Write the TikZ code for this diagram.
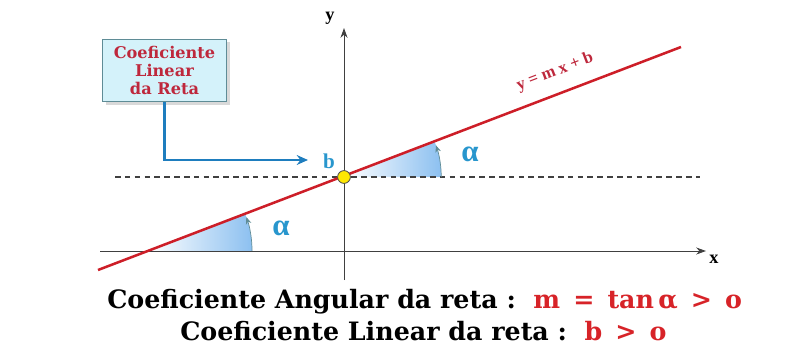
\documentclass[tikz,border=0pt]{standalone}
\usepackage{fontspec}
\setmainfont{Liberation Serif}
\newfontfamily\wideserif{DejaVu Serif}
\usetikzlibrary{arrows.meta,shadows}

\definecolor{linered}{RGB}{205,30,40}
\definecolor{textred}{RGB}{215,35,40}
\definecolor{boxred}{RGB}{190,40,60}
\definecolor{tealblue}{RGB}{40,150,205}
\definecolor{arrowblue}{RGB}{30,125,190}
\definecolor{boxfill}{RGB}{212,242,250}
\definecolor{boxline}{RGB}{95,140,150}
\definecolor{wedge}{RGB}{140,192,240}

\begin{document}
\begin{tikzpicture}[x=0.025cm,y=0.025cm,
    axis/.style={draw=black!75,line width=0.7pt},
    greek/.style={text=tealblue,font=\bfseries\fontsize{22}{22}\selectfont},
    anglearrow/.style={draw=boxline,line width=0.5pt,-{Stealth[length=5pt,width=4pt]}},
    formula/.style={anchor=base west,inner sep=0pt,font=\wideserif\bfseries\fontsize{18}{18}\selectfont}]

  \useasboundingbox (0,0) rectangle (786,356);

  \coordinate (o) at (344,179);
  \coordinate (p) at (148,105);

  % wedges
  \shade[left color=white,right color=wedge] (o) -- ++(0:2.43cm) arc[start angle=0,end angle=20.9,radius=2.43cm] -- cycle;
  \shade[left color=white,right color=wedge] (p) -- ++(0:2.6cm) arc[start angle=0,end angle=20.9,radius=2.6cm] -- cycle;

  % axes
  \coordinate (xl) at (100,105);
  \coordinate (xr) at (706,105);
  \coordinate (yd) at (344,76);
  \coordinate (yu) at (344,328);
  \draw[axis,-{Stealth[length=7pt,width=5pt]}] (xl) -- (xr);
  \draw[axis,-{Stealth[length=7pt,width=5pt]}] (yd) -- (yu);
  \node[font=\bfseries\fontsize{13}{13}\selectfont] (xlab) at (714,97) {x};
  \node[font=\bfseries\fontsize{13}{13}\selectfont] (ylab) at (330,338) {y};

  % dashed line through b
  \coordinate (dl) at (115,179);
  \coordinate (dr) at (700,179);
  \draw[black!75,line width=0.8pt,dash pattern=on 4pt off 3pt] (dl) -- (dr);

  % angle arrows
  \draw[anglearrow] (o) ++(0:2.43cm) arc[start angle=0,end angle=19,radius=2.43cm];
  \draw[anglearrow] (p) ++(0:2.6cm) arc[start angle=0,end angle=19,radius=2.6cm];

  % the line
  \coordinate (rl) at (98,86);
  \coordinate (rr) at (681,309);
  \draw[linered,line width=1.8pt] (rl) -- (rr);
  \node[text=boxred,font=\bfseries\fontsize{12}{12}\selectfont,rotate=20.9] (eq) at (555,284) {y = m x + b};

  \node[greek] (a1) at (470,202) {α};
  \node[greek] (a2) at (281,128) {α};

  \node[text=tealblue,font=\bfseries\fontsize{15}{15}\selectfont] (b) at (329,195) {b};
  \fill[yellow!90!orange,draw=black!70,line width=0.6pt] (o) circle (0.16cm);

  % box
  \node[draw=boxline,fill=boxfill,line width=0.8pt,drop shadow={opacity=0.3},
        minimum width=3.1cm,minimum height=1.57cm,inner sep=1pt,align=center,
        text=boxred,font=\wideserif\bfseries\fontsize{11.5}{12.8}\selectfont] (box) at (164.5,285.5)
        {Coeficiente\\Linear\\da Reta};
  \coordinate (bend) at (box.south |- 0,196);
  \coordinate (tip) at (308,196);
  \draw[arrowblue,line width=2pt,-{Stealth[length=8pt,width=7pt]}] (box.south) -- (bend) -- (tip);

  % formulas
  \node[formula] (angular) at (107,48)
        {Coeficiente Angular da reta :\ \ \textcolor{textred}{m \,=\, tan\,α \,>\, o}};
  \node[formula] (linear) at (180,16)
        {Coeficiente Linear da reta :\ \ \textcolor{textred}{b \,>\, o}};
\end{tikzpicture}
\end{document}
